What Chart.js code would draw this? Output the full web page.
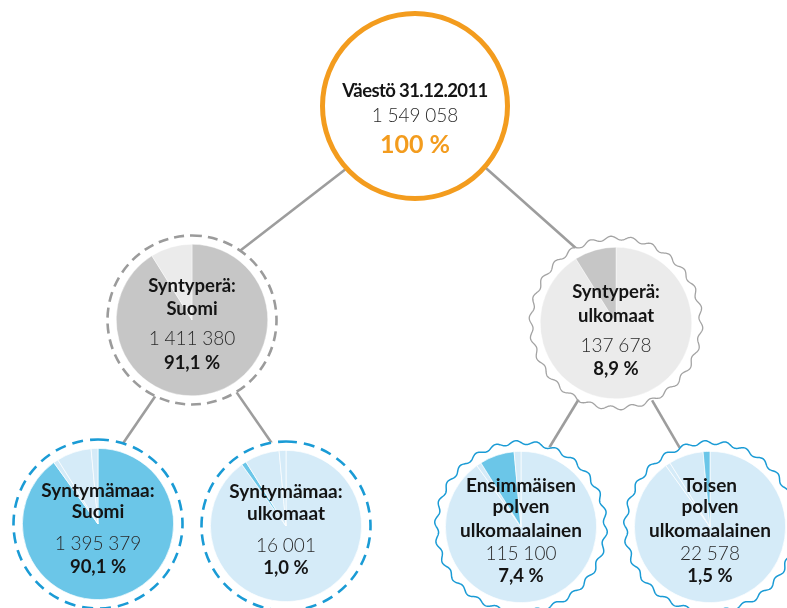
<!DOCTYPE html>
<html><head><meta charset="utf-8">
<script src="https://cdn.jsdelivr.net/npm/chart.js@4.4.1/dist/chart.umd.min.js"></script>
<style>
html,body{margin:0;padding:0;background:#fff;}
#wrap{position:relative;width:787px;height:608px;overflow:hidden;background:#fff;}
#wrap canvas{position:absolute;}
.t{position:absolute;width:260px;text-align:center;white-space:nowrap;font-family:Lato,'Open Sans',sans-serif;}
</style></head><body>
<div id="wrap"><canvas id="bg" width="787" height="608" style="left:0;top:0"></canvas></div>
<script>
// ---------- DATA ----------
const nodeTitles = [
  ['Väestö 31.12.2011'],
  ['Syntyperä:', 'Suomi'],
  ['Syntyperä:', 'ulkomaat'],
  ['Syntymämaa:', 'Suomi'],
  ['Syntymämaa:', 'ulkomaat'],
  ['Ensimmäisen', 'polven', 'ulkomaalainen'],
  ['Toisen', 'polven', 'ulkomaalainen']
];
const population = [1549058, 1411380, 137678, 1395379, 16001, 115100, 22578];
const shareLabels = ['100 %', '91,1 %', '8,9 %', '90,1 %', '1,0 %', '7,4 %', '1,5 %'];
const parentOf = [null, 0, 0, 1, 1, 2, 2];
// pie groups: level 2 = origin (nodes 1,2), level 3 = birth country / generation (nodes 3..6)
const originNodes = [1, 2];
const detailNodes = [3, 4, 5, 6];

// ---------- LAYOUT / STYLE (not data) ----------
const layout = [
  {cx: 415, cy: 106, ring: 'orange', R: 92.5, titleBase: [-9], numBase: 16, pctBase: 47, tSize: 18.5},
  {cx: 192, cy: 320, ring: 'dashGray', R: 84.5, titleBase: [-28, -5], numBase: 25, pctBase: 49, tSize: 18.5},
  {cx: 616, cy: 323, ring: 'waveGray', R: 85, titleBase: [-25, -1], numBase: 29, pctBase: 52, tSize: 18.5},
  {cx: 98, cy: 524, ring: 'dashBlue', R: 84.5, titleBase: [-27, -6], numBase: 26, pctBase: 49, tSize: 19},
  {cx: 286, cy: 526, ring: 'dashBlue', R: 84.5, titleBase: [-28, -6], numBase: 26, pctBase: 48, tSize: 19},
  {cx: 521, cy: 527, ring: 'waveBlue', R: 84.5, titleBase: [-35, -14, 10], numBase: 33, pctBase: 55, tSize: 19},
  {cx: 710, cy: 527, ring: 'waveBlue', R: 84.5, titleBase: [-35, -14, 10], numBase: 33, pctBase: 55, tSize: 19}
];
// connector angles (deg) at parent and child
const connAngles = {1: [137.6, -55.4], 2: [41.2, -118], 3: [115.6, -73], 4: [58.4, -99.5], 5: [116, -70.5], 6: [65.1, -110.8]};
const PIE_R = 75.5;
const colGrayDark = '#c6c6c6', colGrayLight = '#ebebeb';
const colBlueDark = '#6bc6e8', colBlueLight = '#d5ebf8';
const lineCol = '#9d9d9d';

const fmt = n => n.toString().replace(/\B(?=(\d{3})+(?!\d))/g, '\u202f');

// ---------- BACKGROUND CHART (connectors + rings) ----------
const rad = d => d * Math.PI / 180;
const connDatasets = [];
for (let i = 1; i < layout.length; i++) {
  const p = layout[parentOf[i]], c = layout[i];
  const [ap, ac] = connAngles[i];
  const rp = p.R - 1, rc = c.R - 1;
  connDatasets.push({
    data: [
      {x: p.cx + rp * Math.cos(rad(ap)), y: p.cy + rp * Math.sin(rad(ap))},
      {x: c.cx + rc * Math.cos(rad(ac)), y: c.cy + rc * Math.sin(rad(ac))}
    ],
    showLine: true, borderColor: lineCol, borderWidth: 2.6, pointRadius: 0
  });
}

const ringPlugin = {
  id: 'rings',
  afterDatasetsDraw(chart) {
    const ctx = chart.ctx, xs = chart.scales.x, ys = chart.scales.y;
    layout.forEach(n => {
      const x = xs.getPixelForValue(n.cx), y = ys.getPixelForValue(n.cy);
      ctx.save();
      ctx.beginPath(); ctx.arc(x, y, n.R + 0.5, 0, Math.PI * 2); ctx.fillStyle = '#fff'; ctx.fill();
      ctx.beginPath();
      if (n.ring === 'orange') {
        ctx.arc(x, y, n.R, 0, Math.PI * 2);
        ctx.strokeStyle = '#f39c1e'; ctx.lineWidth = 5; ctx.stroke();
      } else if (n.ring === 'dashGray' || n.ring === 'dashBlue') {
        ctx.arc(x, y, n.R, -Math.PI / 2, Math.PI * 1.5);
        ctx.setLineDash(n.ring === 'dashGray' ? [10, 6] : [11, 7]);
        ctx.strokeStyle = n.ring === 'dashGray' ? '#9b9b9b' : '#1a9bd5';
        ctx.lineWidth = 2.6; ctx.stroke();
      } else {
        const waves = 26, amp = 1.9;
        for (let k = 0; k <= 720; k++) {
          const t = k / 720 * Math.PI * 2;
          const r = n.R + amp * Math.sin(waves * t);
          const px = x + r * Math.cos(t), py = y + r * Math.sin(t);
          k === 0 ? ctx.moveTo(px, py) : ctx.lineTo(px, py);
        }
        ctx.closePath();
        ctx.strokeStyle = n.ring === 'waveGray' ? '#a3a3a3' : '#1a9bd5';
        ctx.lineWidth = n.ring === 'waveGray' ? 1.3 : 1.5; ctx.stroke();
      }
      ctx.restore();
    });
  }
};

new Chart(document.getElementById('bg'), {
  type: 'scatter',
  data: {datasets: connDatasets},
  options: {
    responsive: false, animation: false, devicePixelRatio: 1,
    layout: {padding: 0},
    scales: {
      x: {type: 'linear', min: 0, max: 787, display: false},
      y: {type: 'linear', min: 0, max: 608, reverse: true, display: false}
    },
    plugins: {legend: {display: false}, tooltip: {enabled: false}}
  },
  plugins: [ringPlugin]
});

// ---------- PIES ----------
const wrap = document.getElementById('wrap');
function makePie(nodeIdx, groupNodes, dark, light, bw) {
  const n = layout[nodeIdx];
  const size = Math.round(PIE_R * 2 + 1);
  const cv = document.createElement('canvas');
  cv.width = size; cv.height = size;
  cv.style.left = (n.cx - size / 2) + 'px';
  cv.style.top = (n.cy - size / 2) + 'px';
  wrap.appendChild(cv);
  new Chart(cv, {
    type: 'pie',
    data: {
      labels: groupNodes.map(i => nodeTitles[i].join(' ')),
      datasets: [{
        data: groupNodes.map(i => population[i]),
        backgroundColor: groupNodes.map(i => i === nodeIdx ? dark : light),
        borderColor: 'rgba(255,255,255,0.85)', borderWidth: bw
      }]
    },
    options: {
      responsive: false, animation: false, devicePixelRatio: 1,
      layout: {padding: 0},
      plugins: {legend: {display: false}, tooltip: {enabled: false}}
    }
  });
}
originNodes.forEach(i => makePie(i, originNodes, colGrayDark, colGrayLight, 0.5));
detailNodes.forEach(i => makePie(i, detailNodes, colBlueDark, colBlueLight, 0.8));

// ---------- TEXT ----------
const mctx = document.createElement('canvas').getContext('2d');
function addText(str, cx, baseline, size, weight, color, ls) {
  const fam = "Lato, 'Open Sans', sans-serif";
  mctx.font = `${weight} ${size}px ${fam}`;
  const m = mctx.measureText(str);
  const asc = m.fontBoundingBoxAscent || size * 0.987;
  const desc = m.fontBoundingBoxDescent || size * 0.213;
  const lh = size;
  const baseInBox = (lh - (asc + desc)) / 2 + asc;
  const d = document.createElement('div');
  d.className = 't';
  d.textContent = str;
  d.style.font = `${weight} ${size}px/${lh}px ${fam}`;
  d.style.color = color;
  if (ls) d.style.letterSpacing = ls + 'px';
  d.style.left = (cx - 130) + 'px';
  d.style.top = (baseline - baseInBox) + 'px';
  wrap.appendChild(d);
}
layout.forEach((n, i) => {
  const top = i === 0;
  nodeTitles[i].forEach((line, k) => addText(line, n.cx, n.cy + n.titleBase[k], n.tSize, 700, '#141414', top ? -0.6 : 0));
  addText(fmt(population[i]), n.cx, n.cy + n.numBase, 19, 300, '#2a2a2a');
  addText(shareLabels[i], n.cx, n.cy + n.pctBase, top ? 25 : 18.5, 700, top ? '#f39c1e' : '#141414');
});
</script>
</body></html>
